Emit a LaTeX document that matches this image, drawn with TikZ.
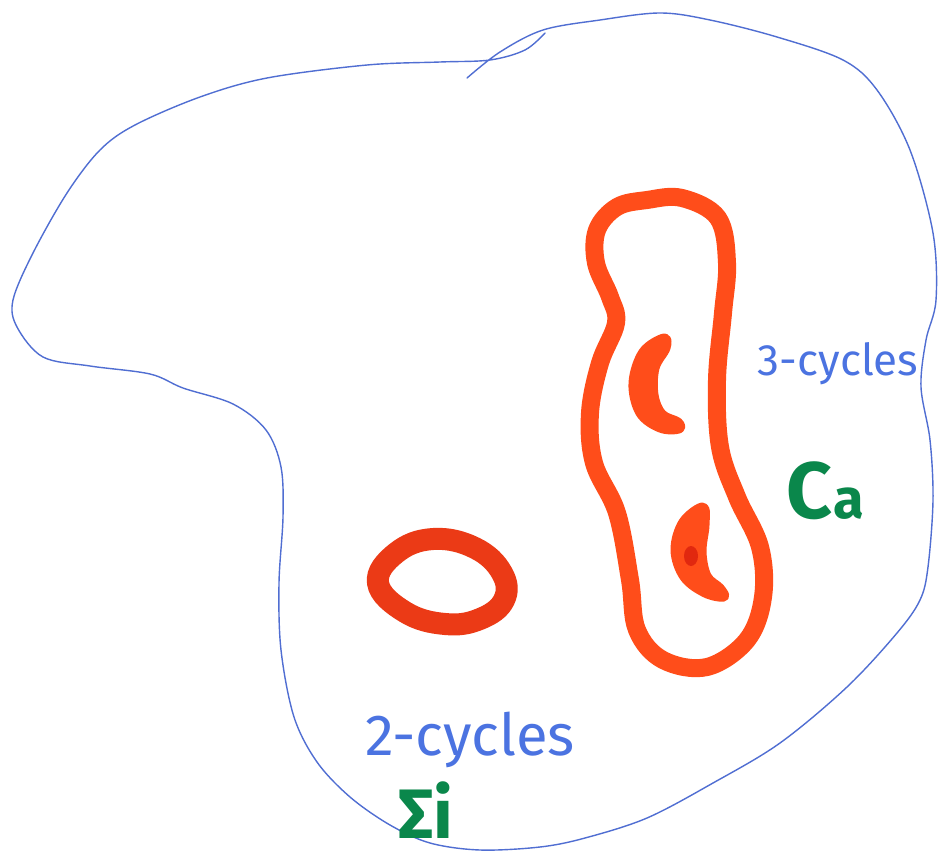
\documentclass[tikz,border=0pt]{standalone}
\usepackage{fontspec}
\setmainfont{Fira Sans}
\definecolor{outline}{RGB}{80,110,210}
\definecolor{bluetxt}{RGB}{75,115,225}
\definecolor{greentxt}{RGB}{10,135,75}
\definecolor{orange}{RGB}{255,77,26}
\definecolor{ringred}{RGB}{235,58,22}
\definecolor{darkred}{RGB}{225,40,15}
\tikzset{
  outl/.style={draw=outline,line width=1.4pt,line cap=round,line join=round},
  redloop/.style={draw=orange,line width=18pt,line cap=round,line join=round},
  blob/.style={draw=orange,fill=orange,line width=9pt,line cap=round,line join=round},
  ring/.style={draw=ringred,line width=22pt},
  bluelabel/.style={text=bluetxt,inner sep=0pt},
  greenlabel/.style={text=greentxt,inner sep=0pt,font=\fontsize{80}{80}\selectfont\bfseries}
}
\begin{document}
\begin{tikzpicture}[x=1pt,y=-1pt]
\useasboundingbox[fill=white] (0,0) rectangle (939,859);
% outer blue outline
\draw[outl] plot[smooth,tension=0.55] coordinates {
 (467,78) (500,52) (543,30) (600,20) (660,13) (710,20) (777,37) (843,60) (877,90)
 (910,150) (933,233) (936,300) (926,340) (921,387) (930,440) (933,500) (928,567)
 (920,600) (897,633) (847,687) (780,743) (713,783) (647,818) (585,838) (540,847)
 (480,850) (430,843) (390,825) (350,797) (317,762) (294,717) (281,650) (279,583)
 (283,517) (281,467) (266,430) (233,404) (183,388) (150,374) (90,366) (43,357)
 (17,327) (13,300) (33,253) (67,193) (100,150) (135,125) (200,97) (267,78)
 (367,65) (440,62) (490,60) (525,50) (545,33)};
% long orange loop
\draw[redloop] plot[smooth cycle,tension=0.6] coordinates {
 (647,200) (682,198) (718,218) (727,263) (723,313) (717,380) (720,447) (737,497)
 (760,547) (763,597) (747,640) (707,667) (663,660) (637,630) (630,580) (617,513)
 (594,463) (590,413) (600,363) (616,323) (610,297) (596,263) (597,230) (617,207)};
% inner crescents
\draw[blob] plot[smooth cycle,tension=0.6] coordinates {
 (664,338) (643,352) (633,383) (640,413) (660,428) (679,429)
 (678,422) (662,414) (654,395) (655,368) (666,348)};
\draw[blob] plot[smooth cycle,tension=0.6] coordinates {
 (703,507) (683,522) (675,550) (684,577) (705,593) (724,597)
 (720,588) (707,576) (702,552) (705,525)};
\fill[darkred] (691,556) ellipse[x radius=7,y radius=10];
% small ring
\draw[ring] plot[smooth cycle,tension=0.7] coordinates {
 (378,583) (396,553) (433,539) (475,548) (502,573) (504,600) (480,619) (445,624) (405,612)};
% labels
\node[bluelabel,font=\fontsize{44}{44}\selectfont] (three) at (838,364) {3-cycles};
\node[greenlabel,anchor=base west] (ca) at (786,518) {C\kern1pt{\fontsize{56}{56}\selectfont a}};
\node[bluelabel,font=\fontsize{58}{58}\selectfont] (two) at (470,740) {2-cycles};
\node[greenlabel,anchor=base west,font=\fontsize{70}{70}\selectfont\bfseries] (sigma) at (398,838) {Σi};
\end{tikzpicture}
\end{document}
